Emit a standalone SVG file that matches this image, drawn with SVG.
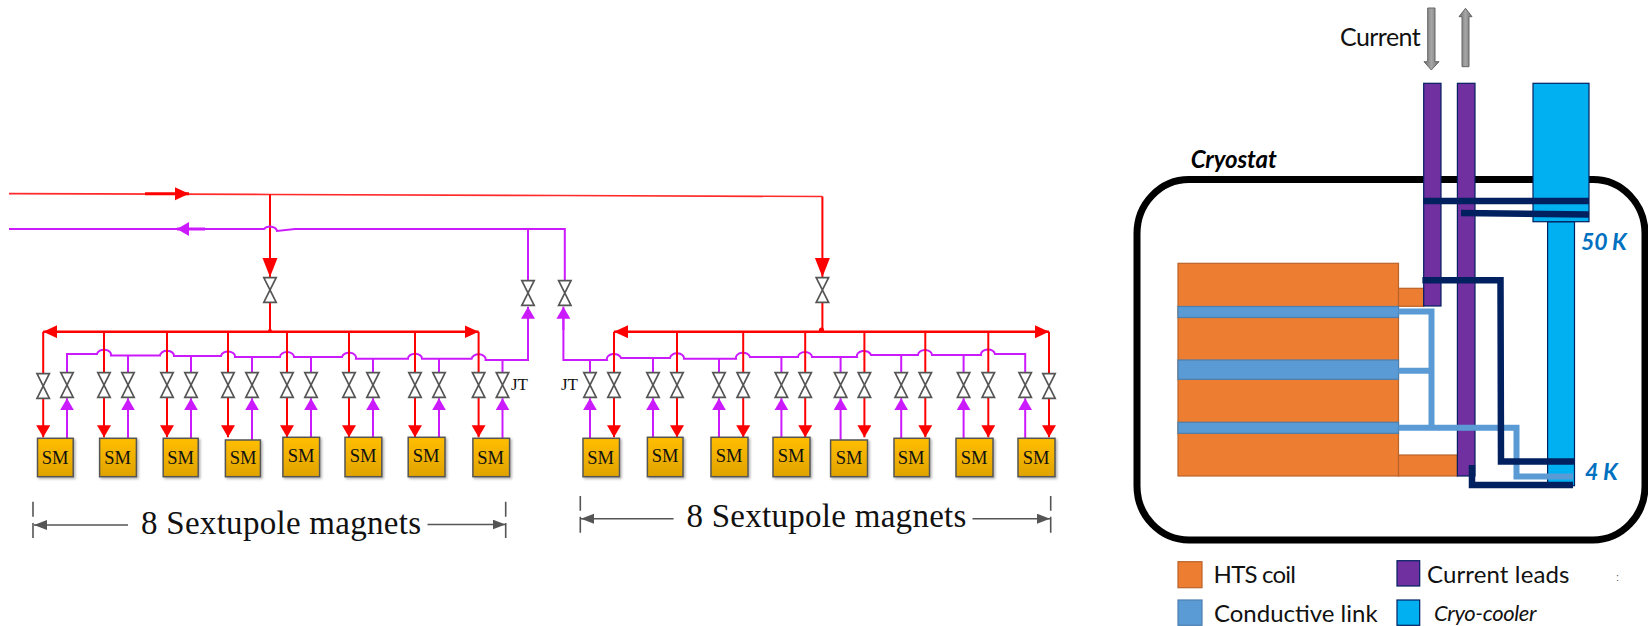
<svg xmlns="http://www.w3.org/2000/svg" xmlns:xlink="http://www.w3.org/1999/xlink" width="1648" height="626" viewBox="0 0 1648 626">
<style>
text{font-family:"Liberation Serif","Times New Roman",serif;fill:#111}
.sm rect{stroke:#555;stroke-width:1.5;fill:url(#smg);filter:url(#sh)}
.sm text{font-size:18.5px;text-anchor:middle}
.jt{font-size:17px}
.dim{font-size:33px}
.r{fill:none;stroke:#ff0000;stroke-width:2}
.p{fill:none;stroke:#cc1aff;stroke-width:2}
.ra{marker-end:url(#ra)}
.pa{marker-end:url(#pa)}
.v{fill:#fff;stroke:#555;stroke-width:1.7;stroke-linejoin:miter}
.d{fill:none;stroke:#555;stroke-width:1.6}
.c{font-family:Lato,"Liberation Sans",sans-serif}
.coil{fill:#ed7d31;stroke:#b9632a;stroke-width:1.2}
.band{fill:#5b9bd5;stroke:#4a7fb0;stroke-width:1.2}
.lead{fill:#7030a0;stroke:#002060;stroke-width:1.2}
.cool{fill:#00b0f0;stroke:#002060;stroke-width:1.2}
.link{fill:none;stroke:#5b9bd5;stroke-width:6}
.navy{fill:none;stroke:#002060;stroke-width:6.5}
.k{font-family:Lato,"Liberation Sans",sans-serif;font-weight:700;font-style:italic;fill:#0070c0;font-size:23px}
.lg{font-family:Lato,"Liberation Sans",sans-serif;font-size:24px;fill:#111}
</style>
<defs>
<linearGradient id="smg" x1="0" y1="0" x2="0" y2="1"><stop offset="0" stop-color="#ffbe00"/><stop offset="1" stop-color="#e0a300"/></linearGradient>
<linearGradient id="gr" x1="0" y1="0" x2="1" y2="0"><stop offset="0" stop-color="#6f6f6f"/><stop offset=".5" stop-color="#a6a6a6"/><stop offset="1" stop-color="#6f6f6f"/></linearGradient>
<filter id="sh" x="-20%" y="-20%" width="150%" height="150%"><feDropShadow dx="1.5" dy="1.5" stdDeviation="1.2" flood-color="#000" flood-opacity=".3"/></filter>
<marker id="ra" markerUnits="userSpaceOnUse" markerWidth="16" markerHeight="16" refX="12" refY="7" orient="auto"><path d="M0 0L12 7L0 14Z" fill="#ff0000"/></marker>
<marker id="pa" markerUnits="userSpaceOnUse" markerWidth="16" markerHeight="16" refX="12" refY="7" orient="auto"><path d="M0 0L12 7L0 14Z" fill="#cc1aff"/></marker>
<marker id="rb" markerUnits="userSpaceOnUse" markerWidth="20" markerHeight="16" refX="19" refY="7.5" orient="auto"><path d="M0 0L19 7.5L0 15Z" fill="#ff0000"/></marker>
<marker id="rc" markerUnits="userSpaceOnUse" markerWidth="16" markerHeight="16" refX="14" refY="6.5" orient="auto"><path d="M0 0L14 6.5L0 13Z" fill="#ff0000"/></marker>
<marker id="dm" markerUnits="userSpaceOnUse" markerWidth="14" markerHeight="12" refX="13" refY="5" orient="auto"><path d="M0 0L13 5L0 10Z" fill="#555"/></marker>
<path id="val" class="v" d="M-6.2 -12.3H6.2L-6.2 12.3H6.2Z"/>
</defs>

<g id="connectors">
<path class="r" d="M9 193.7L270 194.5L560 195.5L822.4 196.5" style="stroke:#ff2a2a;stroke-width:1.7"/>
<path class="r" d="M822.4 196.5V277" style="marker-end:url(#rb)"/>
<path class="r" style="marker-end:url(#rc);stroke-width:3" d="M145 193.7H189"/>
<path class="r" d="M270 194.5V277" style="marker-end:url(#rb)"/>
<path class="p" d="M9 229H264A7 5 0 0 1 277 231L295 229H564.8V282M528 229V282"/>
<path class="p" style="marker-end:url(#pa);stroke-width:3" d="M205 229H177"/>
<path class="r" d="M270 302V331.7" />
<path class="r" d="M822.4 302V331.7"/>
<path class="r" style="marker-end:url(#rc);stroke-width:2.5" d="M270 331.7H43.2"/>
<path class="r" style="marker-end:url(#rc);stroke-width:2.5" d="M270 331.7H478.6"/>
<path class="r" style="marker-end:url(#rc);stroke-width:2.5" d="M822.4 331.7H614"/>
<path class="r" style="marker-end:url(#rc);stroke-width:2.5" d="M822.4 331.7H1049"/>
<circle cx="270" cy="331" r="2" fill="#ff0000"/>
<circle cx="821.5" cy="330" r="2.6" fill="#ff0000"/>

<path class="p" d="M67 373V354H97A7 5 0 0 1 111 355.5H160A7 5 0 0 1 174 356H221A7 5 0 0 1 235 357H280A7 5 0 0 1 294 357H342A7 5 0 0 1 356 358.7H408A7 5 0 0 1 422 358.7H471.6A7 5 0 0 1 485.6 360H528V318"/>
<path class="pa" style="fill:none;stroke:#cc1aff;stroke-width:2" d="M528 330V306.7"/>
<path class="p" d="M128 355.5V373M191 356V373M252 357V373M311 357V373M373 358.7V373M439 358.7V373M502.5 360V373"/>
<path class="p" d="M563.4 318V360H607A7 5 0 0 1 621 358H670A7 5 0 0 1 684 358.7H736A7 5 0 0 1 750 357H798A7 5 0 0 1 812 357H857A7 5 0 0 1 871 355H918A7 5 0 0 1 932 355H981A7 5 0 0 1 995 354H1025.2V373"/>
<path class="pa" style="fill:none;stroke:#cc1aff;stroke-width:2" d="M563.4 330V306.7"/>
<path class="p" d="M590 360V373M653 358.7V373M719 358V373M781.4 357V373M840.6 356V373M901.2 355V373M963.6 354.5V373"/>

<path class="r" d="M43.2 331.7V374M104 331.7V373M167 331.7V373M228 331.7V373M287 331.7V373M349 331.7V373M415 331.7V373M478.6 331.7V373"/>
<path class="r" d="M614 331.7V373M677 331.7V373M743.2 331.7V373M805.2 331.7V373M864.4 331.7V373M925.3 331.7V373M988.3 331.7V373M1049 331.7V374"/>

<g>
<path class="r ra" d="M43.2 398V437.3"/><path class="r ra" d="M104 397V437.3"/><path class="r ra" d="M167 397V437.3"/><path class="r ra" d="M228 397V437.3"/><path class="r ra" d="M287 397V437.3"/><path class="r ra" d="M349 397V437.3"/><path class="r ra" d="M415 397V437.3"/><path class="r ra" d="M478.6 397V437.3"/>
<path class="r ra" d="M614 397V437.3"/><path class="r ra" d="M677 397V437.3"/><path class="r ra" d="M743.2 397V437.3"/><path class="r ra" d="M805.2 397V437.3"/><path class="r ra" d="M864.4 397V437.3"/><path class="r ra" d="M925.3 397V437.3"/><path class="r ra" d="M988.3 397V437.3"/><path class="r ra" d="M1049 398V437.3"/>
</g>
<g>
<path class="p pa" d="M67 438V398.3"/><path class="p pa" d="M128 438V398.3"/><path class="p pa" d="M191 438V398.3"/><path class="p pa" d="M252 440V398.3"/><path class="p pa" d="M311 438V398.3"/><path class="p pa" d="M373 438V398.3"/><path class="p pa" d="M439 438V398.3"/><path class="p pa" d="M502.5 438V398.3"/>
<path class="p pa" d="M590 438V398.3"/><path class="p pa" d="M653 438V398.3"/><path class="p pa" d="M719 438V398.3"/><path class="p pa" d="M781.4 438V398.3"/><path class="p pa" d="M840.6 440V398.3"/><path class="p pa" d="M901.2 438V398.3"/><path class="p pa" d="M963.6 438V398.3"/><path class="p pa" d="M1025.2 438V398.3"/>
</g>
<path class="d" style="marker-end:url(#dm)" d="M128 525H34"/>
<path class="d" style="marker-end:url(#dm)" d="M427.5 524.5H505.5"/>
<path class="d" style="marker-end:url(#dm)" d="M673.6 518.7H581"/>
<path class="d" style="marker-end:url(#dm)" d="M972.5 518.7H1050"/>
<path class="d" d="M33 501.7V516.7M33 523V538M505.7 501.7V516.7M505.7 523V538M580.3 496V510.7M580.3 516.7V532.7M1050.7 496V510.7M1050.7 516.7V532.7"/>
</g>

<g id="valves">
<use xlink:href="#val" x="270" y="290"/><use xlink:href="#val" x="822.4" y="290"/>
<use xlink:href="#val" x="528" y="293"/><use xlink:href="#val" x="564.8" y="293"/>
<use xlink:href="#val" x="43.2" y="386"/><use xlink:href="#val" x="67" y="385"/><use xlink:href="#val" x="104" y="385"/><use xlink:href="#val" x="128" y="385"/><use xlink:href="#val" x="167" y="385"/><use xlink:href="#val" x="191" y="385"/><use xlink:href="#val" x="228" y="385"/><use xlink:href="#val" x="252" y="385"/><use xlink:href="#val" x="287" y="385"/><use xlink:href="#val" x="311" y="385"/><use xlink:href="#val" x="349" y="385"/><use xlink:href="#val" x="373" y="385"/><use xlink:href="#val" x="415" y="385"/><use xlink:href="#val" x="439" y="385"/><use xlink:href="#val" x="478.6" y="385"/><use xlink:href="#val" x="502.5" y="385"/>
<use xlink:href="#val" x="590" y="385"/><use xlink:href="#val" x="614" y="385"/><use xlink:href="#val" x="653" y="385"/><use xlink:href="#val" x="677" y="385"/><use xlink:href="#val" x="719" y="385"/><use xlink:href="#val" x="743.2" y="385"/><use xlink:href="#val" x="781.4" y="385"/><use xlink:href="#val" x="805.2" y="385"/><use xlink:href="#val" x="840.6" y="385"/><use xlink:href="#val" x="864.4" y="385"/><use xlink:href="#val" x="901.2" y="385"/><use xlink:href="#val" x="925.3" y="385"/><use xlink:href="#val" x="963.6" y="385"/><use xlink:href="#val" x="988.3" y="385"/><use xlink:href="#val" x="1025.2" y="385"/><use xlink:href="#val" x="1049" y="386"/>
</g>

<g id="sm-l1" class="sm"><rect x="37.5" y="438.3" width="35.7" height="38.4"/><text x="55" y="463.5">SM</text></g>
<g id="sm-l2" class="sm"><rect x="99.6" y="438.3" width="36.8" height="38.4"/><text x="117.5" y="463.5">SM</text></g>
<g id="sm-l3" class="sm"><rect x="163.2" y="438.3" width="35" height="38.4"/><text x="180.5" y="463.5">SM</text></g>
<g id="sm-l4" class="sm"><rect x="225.4" y="440" width="35" height="36.7"/><text x="243" y="464">SM</text></g>
<g id="sm-l5" class="sm"><rect x="282.9" y="437.3" width="36.7" height="39.4"/><text x="301" y="462">SM</text></g>
<g id="sm-l6" class="sm"><rect x="345" y="437.3" width="36.8" height="39.4"/><text x="363" y="462">SM</text></g>
<g id="sm-l7" class="sm"><rect x="408.2" y="437.3" width="36.8" height="39.4"/><text x="426" y="462">SM</text></g>
<g id="sm-l8" class="sm"><rect x="472.9" y="438.3" width="36.7" height="38.4"/><text x="490.5" y="463.5">SM</text></g>
<g id="sm-r1" class="sm"><rect x="583" y="438.3" width="36.5" height="38.4"/><text x="600.5" y="463.5">SM</text></g>
<g id="sm-r2" class="sm"><rect x="647.4" y="437.3" width="35.6" height="39.4"/><text x="665" y="462">SM</text></g>
<g id="sm-r3" class="sm"><rect x="711" y="437.3" width="37" height="39.4"/><text x="729" y="462">SM</text></g>
<g id="sm-r4" class="sm"><rect x="773" y="437.3" width="37" height="39.4"/><text x="791" y="462">SM</text></g>
<g id="sm-r5" class="sm"><rect x="830.6" y="440" width="36.9" height="36.7"/><text x="849" y="464">SM</text></g>
<g id="sm-r6" class="sm"><rect x="894" y="438.3" width="35.5" height="38.4"/><text x="911" y="463.5">SM</text></g>
<g id="sm-r7" class="sm"><rect x="956" y="438.3" width="37" height="38.4"/><text x="974" y="463.5">SM</text></g>
<g id="sm-r8" class="sm"><rect x="1018" y="438.3" width="37" height="38.4"/><text x="1036" y="463.5">SM</text></g>

<text class="jt" x="511" y="390">JT</text>
<text class="jt" x="561" y="390">JT</text>
<text class="dim" x="141" y="534" textLength="280">8 Sextupole magnets</text>
<text class="dim" x="686.4" y="527" textLength="280">8 Sextupole magnets</text>

<g id="cryostat-diagram">
<rect id="cryostat" x="1137" y="179.5" width="508" height="360.5" rx="52" ry="54" fill="none" stroke="#000" stroke-width="7"/>
<text class="c" x="1190.7" y="168" font-size="24" font-weight="700" font-style="italic" textLength="86" style="fill:#000">Cryostat</text>
<text class="c" x="1340" y="46" font-size="25" textLength="80.7">Current</text>
<path id="current-in" d="M1427.7 8H1435V61.7H1439L1431.3 70L1424 61.7H1427.7Z" fill="url(#gr)" stroke="#666"/>
<path id="current-out" d="M1462 66.7V16.7H1459L1465.5 8.3L1472 16.7H1469V66.7Z" fill="url(#gr)" stroke="#666"/>

<g id="hts-coil">
<rect class="coil" x="1178" y="263.3" width="220.5" height="212.7"/>
<rect class="coil" x="1398.5" y="288.3" width="25.2" height="18"/>
<rect class="coil" x="1398.5" y="455" width="58.9" height="21"/>
</g>
<g id="links-bands">
<rect class="band" x="1178" y="306.5" width="220.5" height="11"/>
<rect class="band" x="1178" y="360" width="220.5" height="19.3"/>
<rect class="band" x="1178" y="422.3" width="220.5" height="11"/>
</g>
<g id="current-leads">
<rect class="lead" x="1423.7" y="83.3" width="17.3" height="222.7"/>
<rect class="lead" x="1457.4" y="83.3" width="17.6" height="392.7"/>
</g>
<g id="cryo-cooler">
<rect class="cool" x="1547.6" y="221.7" width="26.9" height="264"/>
<rect class="cool" x="1533" y="83.3" width="56" height="138.4"/>
</g>
<g id="thermal-links">
<path class="link" d="M1398.5 311.5H1431.5V427.7M1398.5 370.7H1431.5M1398.5 427.7H1516.5V476.5H1573"/>
<path class="navy" d="M1423 201H1589M1461 213L1589 214.5"/>
<path class="navy" d="M1422.4 280.3H1500.5L1501 461.5H1575"/>
<path class="navy" d="M1472 465V485H1573"/>
</g>
<text class="k" y="250"><tspan x="1581">50</tspan> <tspan x="1612">K</tspan></text>
<text class="k" y="480"><tspan x="1585">4</tspan> <tspan x="1603">K</tspan></text>

<g id="legend">
<rect class="coil" x="1178" y="561.7" width="24" height="26"/>
<text class="lg" x="1213.6" y="583" textLength="82.4">HTS coil</text>
<rect x="1178" y="600" width="24" height="25.3" fill="#5b9bd5" stroke="#4a7fb0" stroke-width="1.2"/>
<text class="lg" x="1214" y="621.7" textLength="163.6">Conductive link</text>
<rect class="lead" x="1397" y="560.7" width="22.7" height="25.3"/>
<text class="lg" x="1427" y="583" textLength="142.5">Current leads</text>
<rect class="cool" x="1397" y="600" width="22.7" height="25.3"/>
<text class="lg" x="1434" y="620.7" textLength="102.5" style="font-style:italic;font-size:22px">Cryo-cooler</text>
<text x="1616" y="581" style="font-family:'Liberation Sans',sans-serif;font-size:11px;fill:#555">:</text>
</g>
</g>
</svg>
